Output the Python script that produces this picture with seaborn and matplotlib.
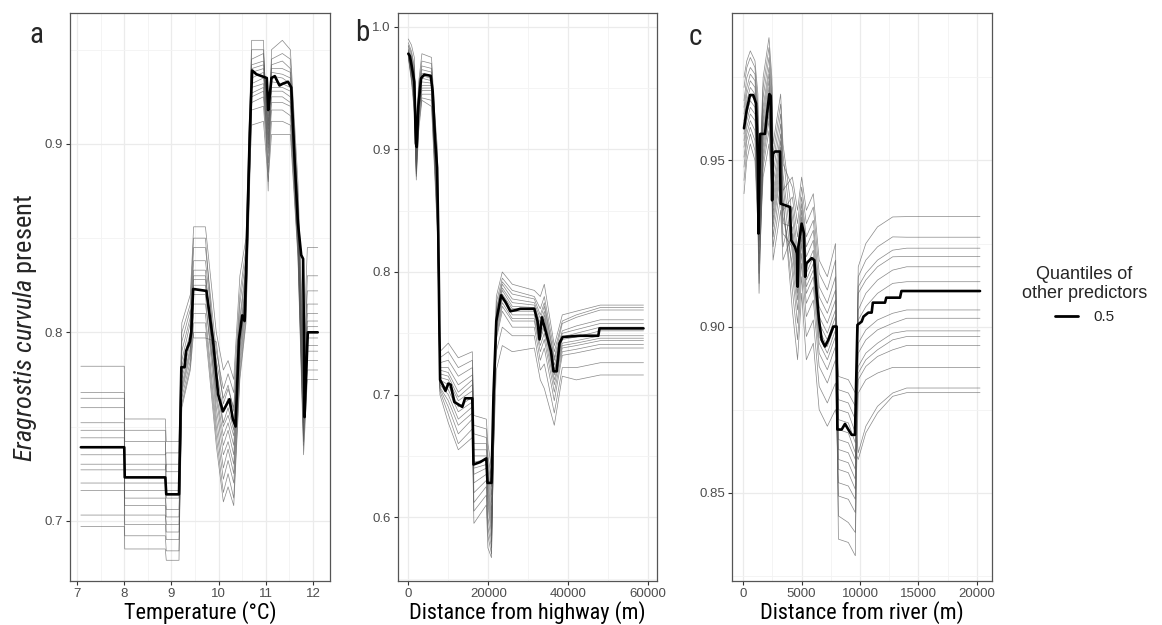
import pandas as pd
import numpy as np
import seaborn as sns
import matplotlib.pyplot as plt
from matplotlib import font_manager
from matplotlib.lines import Line2D
from matplotlib.ticker import MultipleLocator

# ---- panel a: temperature ----
xa_med = [7.08, 8.0, 8.01, 8.87, 8.89, 9.16, 9.21, 9.28, 9.31, 9.39, 9.42, 9.46, 9.74, 9.88, 9.99,
          10.09, 10.23, 10.30, 10.36, 10.43, 10.50, 10.55, 10.60, 10.66, 10.71, 10.80, 10.91, 11.02,
          11.05, 11.08, 11.12, 11.19, 11.29, 11.36, 11.47, 11.54, 11.61, 11.68, 11.75, 11.79, 11.81,
          11.82, 11.85, 11.89, 12.1]
ya_med = [0.739, 0.739, 0.723, 0.723, 0.714, 0.714, 0.7815, 0.7815, 0.790, 0.795, 0.800, 0.823,
          0.822, 0.796, 0.767, 0.758, 0.7645, 0.754, 0.750, 0.796, 0.809, 0.806, 0.849, 0.906, 0.939,
          0.937, 0.936, 0.935, 0.918, 0.925, 0.935, 0.936, 0.931, 0.932, 0.933, 0.930, 0.8915, 0.858,
          0.841, 0.839, 0.796, 0.755, 0.775, 0.800, 0.800]

xa_grey = [7.08, 8.0, 8.01, 8.87, 8.89, 9.16, 9.22, 9.4, 9.47, 9.72, 9.95, 10.1, 10.2, 10.32, 10.45,
           10.58, 10.7, 10.95, 11.05, 11.12, 11.35, 11.52, 11.68, 11.8, 11.88, 12.1]
ya_grey = [
    [.782, .782, .742, .742, .726, .726, .790, .808, .845, .845, .790, .770, .778, .768, .820, .845, .950, .950, .900, .945, .948, .945, .872, .785, .800, .800],
    [.768, .768, .754, .754, .742, .742, .805, .820, .856, .856, .800, .780, .785, .775, .830, .850, .955, .955, .875, .950, .955, .950, .880, .790, .845, .845],
    [.765, .765, .735, .735, .736, .736, .800, .815, .850, .850, .775, .752, .760, .748, .800, .828, .945, .948, .910, .942, .944, .940, .868, .780, .822, .822],
    [.760, .760, .748, .748, .720, .720, .785, .805, .838, .838, .785, .765, .772, .758, .808, .835, .935, .938, .912, .933, .932, .930, .865, .772, .830, .830],
    [.752, .752, .727, .727, .730, .730, .782, .800, .833, .833, .765, .740, .748, .735, .792, .820, .942, .944, .915, .940, .940, .938, .862, .768, .790, .790],
    [.748, .748, .730, .730, .712, .712, .778, .798, .830, .830, .780, .758, .765, .752, .805, .832, .930, .932, .902, .928, .928, .925, .860, .765, .810, .810],
    [.744, .744, .716, .716, .716, .716, .775, .795, .828, .828, .760, .735, .742, .730, .790, .818, .940, .942, .905, .938, .937, .935, .857, .760, .815, .815],
    [.735, .735, .720, .720, .702, .702, .772, .792, .825, .825, .772, .750, .756, .745, .798, .825, .938, .940, .918, .936, .935, .932, .855, .757, .803, .803],
    [.730, .730, .712, .712, .706, .706, .770, .790, .820, .820, .755, .728, .738, .725, .786, .815, .927, .930, .898, .925, .925, .922, .852, .752, .806, .806],
    [.727, .727, .703, .703, .698, .698, .768, .788, .815, .815, .768, .745, .752, .740, .795, .822, .932, .935, .908, .930, .930, .928, .850, .748, .797, .797],
    [.720, .720, .708, .708, .694, .694, .765, .785, .810, .810, .750, .722, .732, .720, .782, .812, .925, .928, .895, .922, .922, .920, .848, .745, .793, .793],
    [.716, .716, .698, .698, .690, .690, .762, .782, .805, .805, .745, .715, .725, .712, .778, .808, .922, .925, .890, .918, .918, .915, .845, .742, .785, .785],
    [.703, .703, .692, .692, .684, .684, .760, .780, .800, .800, .740, .710, .718, .708, .775, .805, .918, .920, .885, .912, .912, .910, .842, .740, .780, .780],
    [.697, .697, .685, .685, .679, .679, .795, .812, .797, .797, .795, .762, .770, .760, .815, .840, .910, .912, .880, .905, .905, .905, .840, .735, .775, .775],
]

# ---- panel b: distance from highway ----
xb_med = [0, 400, 900, 1500, 1900, 2100, 2500, 3200, 4000, 5600, 6100, 6700, 7200, 7500, 7750, 7950,
          8600, 9300, 10000, 10600, 11500, 12500, 13500, 14200, 16000, 16300, 18000, 19000, 19500,
          19800, 20800, 21300, 22000, 23200, 24400, 25500, 27000, 28000, 31500, 32300, 32800, 33400,
          34400, 35700, 36300, 37100, 37800, 38600, 43000, 47500, 47800, 58800]
yb_med = [0.978, 0.976, 0.967, 0.955, 0.905, 0.902, 0.935, 0.958, 0.961, 0.960, 0.947, 0.908, 0.885,
          0.830, 0.760, 0.712, 0.708, 0.703, 0.709, 0.708, 0.694, 0.692, 0.690, 0.697, 0.697, 0.643,
          0.645, 0.647, 0.648, 0.628, 0.628, 0.700, 0.760, 0.781, 0.775, 0.768, 0.769, 0.770, 0.770,
          0.760, 0.745, 0.763, 0.751, 0.735, 0.719, 0.719, 0.742, 0.747, 0.748, 0.748, 0.754, 0.754]

xb_grey = [0, 800, 1500, 2000, 2600, 3400, 5800, 6600, 7300, 7900, 10000, 12500, 16000, 16400, 19500,
           19900, 20800, 22000, 23500, 26000, 31500, 33000, 34000, 36500, 38500, 42000, 48000, 58800]
# ranked levels of the grey curves over three stretches of the axis
hb_start = [
    [.990, .985, .975, .920, .955, .978, .975, .930, .900],
    [.987, .980, .968, .912, .950, .972, .970, .925, .890],
    [.985, .978, .965, .905, .948, .968, .966, .920, .885],
    [.984, .975, .962, .900, .945, .965, .963, .915, .880],
    [.982, .972, .958, .895, .942, .962, .960, .912, .875],
    [.981, .970, .955, .892, .940, .960, .958, .908, .870],
    [.980, .968, .952, .890, .938, .958, .956, .905, .865],
    [.979, .966, .950, .888, .935, .955, .954, .902, .860],
    [.978, .964, .948, .886, .932, .952, .952, .900, .855],
    [.977, .962, .945, .884, .930, .950, .950, .897, .850],
    [.977, .960, .942, .882, .928, .948, .948, .894, .845],
    [.976, .958, .940, .880, .925, .945, .945, .890, .840],
    [.976, .957, .935, .878, .920, .942, .940, .885, .835],
    [.975, .955, .930, .875, .915, .940, .935, .880, .830],
]
hb_mid = [
    [.735, .742, .730, .735, .683, .680, .660, .640],
    [.730, .735, .722, .728, .675, .672, .650, .632],
    [.726, .728, .715, .722, .668, .665, .645, .625],
    [.722, .722, .708, .716, .660, .660, .640, .618],
    [.720, .718, .702, .712, .655, .655, .635, .612],
    [.717, .715, .698, .708, .650, .650, .630, .605],
    [.714, .712, .695, .703, .645, .647, .625, .600],
    [.712, .708, .690, .698, .640, .643, .620, .595],
    [.710, .704, .686, .694, .635, .640, .615, .590],
    [.708, .700, .680, .690, .628, .635, .610, .585],
    [.706, .695, .675, .685, .620, .630, .600, .580],
    [.705, .690, .668, .680, .612, .625, .592, .575],
    [.703, .684, .660, .672, .605, .618, .585, .570],
    [.700, .677, .655, .665, .595, .610, .575, .567],
]
hb_end = [
    [.780, .800, .790, .785, .780, .790, .740, .765, .768, .773, .773],
    [.775, .795, .785, .780, .770, .780, .735, .760, .765, .771, .771],
    [.770, .792, .782, .778, .765, .775, .730, .758, .763, .769, .769],
    [.768, .790, .778, .775, .762, .772, .728, .752, .756, .761, .761],
    [.765, .787, .775, .773, .758, .768, .724, .750, .753, .758, .758],
    [.762, .785, .772, .771, .755, .765, .720, .747, .750, .755, .755],
    [.760, .782, .770, .770, .752, .762, .718, .745, .747, .752, .752],
    [.758, .780, .768, .768, .748, .758, .716, .742, .744, .748, .748],
    [.755, .778, .765, .765, .745, .755, .712, .740, .742, .746, .746],
    [.752, .775, .762, .762, .740, .750, .708, .738, .740, .744, .744],
    [.748, .772, .760, .760, .735, .745, .702, .735, .737, .741, .741],
    [.745, .768, .755, .755, .728, .738, .695, .732, .734, .738, .738],
    [.735, .755, .748, .748, .720, .725, .685, .722, .722, .726, .726],
    [.720, .740, .735, .738, .712, .705, .675, .715, .712, .716, .716],
]
rank_b = [
    [1, 2, 3, 4, 5, 6, 7, 8, 9, 10, 11, 12, 13, 14],
    [5, 9, 2, 12, 1, 7, 14, 3, 10, 6, 13, 4, 8, 11],
    [6, 1, 10, 3, 13, 8, 2, 12, 5, 14, 4, 9, 7, 11],
]

# ---- panel c: distance from river ----
xc_med = [60, 290, 575, 857, 1086, 1250, 1300, 1380, 1450, 1857, 2000, 2229, 2343, 2420, 2470, 2520,
          2714, 3143, 3200, 4000, 4100, 4429, 4600, 4660, 4720, 5000, 5200, 5300, 5400, 5857, 6086,
          6286, 6486, 6714, 7000, 7286, 7714, 8000, 8060, 8429, 8714, 9000, 9286, 9571, 9780, 10143,
          10300, 10714, 11000, 11100, 12143, 12250, 13429, 13550, 20286]
yc_med = [0.9597, 0.9652, 0.9697, 0.9697, 0.9672, 0.950, 0.928, 0.945, 0.958, 0.958, 0.963, 0.970,
          0.9695, 0.956, 0.938, 0.952, 0.9527, 0.9527, 0.937, 0.936, 0.926, 0.924, 0.922, 0.912, 0.924,
          0.931, 0.928, 0.915, 0.919, 0.9206, 0.920, 0.910, 0.902, 0.896, 0.894, 0.896, 0.900, 0.900,
          0.869, 0.869, 0.8707, 0.869, 0.8674, 0.8674, 0.9005, 0.9015, 0.903, 0.9042, 0.9042, 0.9072,
          0.9072, 0.9087, 0.9087, 0.9107, 0.9107]

xc_grey = [60, 300, 600, 1000, 1250, 1350, 1700, 2200, 2450, 2550, 3200, 3400, 4200, 4650, 5000, 5400,
           6000, 6500, 7200, 7900, 8150, 9000, 9600, 9850, 10500, 11500, 12800, 14000, 20286]
hc_g1 = [
    [.975, .980, .983, .980, .970, .945], [.972, .978, .981, .978, .966, .942],
    [.968, .975, .978, .976, .963, .939], [.966, .972, .976, .974, .960, .936],
    [.964, .970, .974, .972, .957, .933], [.962, .968, .972, .970, .954, .930],
    [.960, .966, .970, .968, .951, .928], [.958, .964, .968, .966, .948, .926],
    [.956, .962, .966, .964, .945, .924], [.954, .960, .964, .962, .942, .922],
    [.951, .958, .962, .959, .939, .919], [.948, .956, .960, .956, .936, .916],
    [.944, .953, .958, .953, .933, .913], [.940, .950, .955, .950, .930, .910],
]
hc_g2 = [
    [.975, .987, .975, .955, .970, .955], [.972, .984, .972, .952, .967, .952],
    [.969, .981, .969, .949, .964, .949], [.966, .978, .966, .946, .961, .946],
    [.964, .976, .963, .943, .958, .943], [.962, .974, .960, .940, .956, .941],
    [.960, .972, .957, .938, .954, .939], [.958, .970, .955, .936, .952, .937],
    [.956, .968, .953, .934, .950, .935], [.954, .966, .951, .932, .948, .933],
    [.952, .964, .949, .930, .946, .931], [.950, .962, .946, .927, .943, .928],
    [.948, .959, .943, .924, .939, .924], [.945, .955, .940, .920, .935, .920],
]
hc_g3 = [
    [.945, .935, .945, .935, .940, .920, .915, .925], [.942, .931, .942, .931, .936, .916, .911, .920],
    [.939, .927, .939, .927, .932, .912, .907, .915], [.936, .923, .937, .924, .929, .909, .904, .911],
    [.933, .920, .935, .921, .926, .906, .901, .908], [.930, .917, .933, .918, .923, .903, .898, .905],
    [.928, .914, .931, .916, .921, .901, .896, .903], [.926, .912, .929, .914, .919, .899, .894, .901],
    [.924, .910, .927, .912, .917, .897, .892, .899], [.922, .908, .925, .910, .915, .895, .890, .897],
    [.919, .905, .922, .907, .912, .892, .887, .894], [.916, .901, .919, .903, .908, .888, .883, .890],
    [.911, .896, .915, .897, .902, .882, .877, .883], [.905, .890, .910, .890, .895, .875, .870, .875],
]
hc_mid = [
    [.885, .884, .880], [.881, .880, .876], [.878, .877, .872], [.875, .874, .868],
    [.872, .871, .865], [.869, .868, .862], [.866, .865, .860], [.863, .862, .857],
    [.860, .859, .854], [.857, .856, .851], [.853, .852, .848], [.849, .848, .844],
    [.843, .841, .838], [.836, .835, .831],
]
hc_end = [
    [.918, .925, .930, .933, .9331, .9331], [.915, .920, .924, .927, .9269, .9269],
    [.912, .916, .920, .923, .9236, .9236], [.910, .914, .918, .921, .9211, .9211],
    [.905, .910, .914, .917, .9180, .9180], [.902, .906, .910, .913, .9135, .9135],
    [.895, .899, .902, .904, .9050, .9050], [.892, .896, .899, .901, .9025, .9025],
    [.888, .892, .895, .898, .8987, .8987], [.886, .890, .893, .896, .8970, .8970],
    [.884, .888, .891, .893, .8943, .8943], [.880, .884, .886, .8877, .8877, .8877],
    [.862, .870, .876, .880, .8815, .8815], [.860, .868, .874, .879, .8801, .8801],
]
rank_c = [
    [1, 2, 3, 4, 5, 6, 7, 8, 9, 10, 11, 12, 13, 14],
    [3, 1, 6, 2, 9, 4, 11, 5, 13, 7, 14, 8, 12, 10],
    [2, 5, 1, 8, 3, 10, 6, 12, 4, 14, 7, 13, 9, 11],
    [4, 2, 7, 1, 10, 5, 12, 3, 14, 6, 9, 11, 8, 13],
    [2, 6, 1, 9, 4, 11, 3, 13, 5, 14, 7, 10, 8, 12],
]

x_titles = ['Temperature (\u00b0C)', 'Distance from highway (m)', 'Distance from river (m)']
panel_tags = ['a', 'b', 'c']
legend_title = 'Quantiles of\nother predictors'
legend_label = '0.5'


def stitch(blocks, ranks):
    lines = []
    for k in range(len(ranks[0])):
        row = []
        for block, rk in zip(blocks, ranks):
            row += block[rk[k] - 1]
        lines.append(row)
    return lines


def long_frame(xs, lines):
    rows = []
    for k, ys in enumerate(lines):
        for x, y in zip(xs, ys):
            rows.append((k, x, y))
    return pd.DataFrame(rows, columns=['line', 'x', 'y'])


yb_grey = stitch([hb_start, hb_mid, hb_end], rank_b)
yc_grey = stitch([hc_g1, hc_g2, hc_g3, hc_mid, hc_end], rank_c)

sns.set_theme(style='white')
names = {f.name for f in font_manager.fontManager.ttflist}
narrow = 'Roboto'
for cand in ['Liberation Sans Narrow', 'Roboto Condensed', 'DejaVu Sans Condensed', 'Open Sans Condensed']:
    if cand in names:
        narrow = cand
        break
plt.rcParams['font.family'] = ['Liberation Sans', 'DejaVu Sans']
plt.rcParams['mathtext.fontset'] = 'custom'
plt.rcParams['mathtext.it'] = narrow + ':italic'
plt.rcParams['mathtext.rm'] = narrow

fig = plt.figure(figsize=(11.62, 6.25), dpi=100)
W, H = 1162, 625
boxes = [(70, 330), (397.7, 656.7), (732.3, 992.3)]
top, bottom = 13, 581
axes = [fig.add_axes([l / W, (H - bottom) / H, (r - l) / W, (bottom - top) / H]) for l, r in boxes]

panels = [
    (xa_grey, ya_grey, xa_med, ya_med, (6.85, 12.36), (0.668, 0.9695), 1, 0.5, 0.1, 0.05, '%.1f'),
    (xb_grey, yb_grey, xb_med, yb_med, (-2650, 62100), (0.548, 1.0112), 20000, 10000, 0.1, 0.05, '%.1f'),
    (xc_grey, yc_grey, xc_med, yc_med, (-943, 21337), (0.8234, 0.9944), 5000, 2500, 0.05, 0.025, '%.2f'),
]

for ax, (xg, yg, xm, ym, xl, yl, xmaj, xmin, ymaj, ymin, fmt), title in zip(axes, panels, x_titles):
    grey = long_frame(xg, yg)
    sns.lineplot(data=grey, x='x', y='y', units='line', estimator=None, sort=False,
                 color='#555555', lw=0.5, alpha=0.7, legend=False, ax=ax)
    sns.lineplot(x=xm, y=ym, sort=False, color='black', lw=1.9, ax=ax)
    ax.set_xlim(*xl)
    ax.set_ylim(*yl)
    ax.xaxis.set_major_locator(MultipleLocator(xmaj))
    ax.xaxis.set_minor_locator(MultipleLocator(xmin))
    ax.yaxis.set_major_locator(MultipleLocator(ymaj))
    ax.yaxis.set_minor_locator(MultipleLocator(ymin))
    ax.yaxis.set_major_formatter(plt.FormatStrFormatter(fmt))
    if xmaj == 1:
        ax.xaxis.set_major_formatter(plt.FormatStrFormatter('%d'))
    ax.grid(which='major', color='#ebebeb', lw=0.9)
    ax.grid(which='minor', color='#f3f3f3', lw=0.6)
    ax.set_axisbelow(True)
    for s in ax.spines.values():
        s.set_color('#555555')
        s.set_linewidth(0.9)
    ax.tick_params(which='major', length=3, width=0.8, color='#333333', pad=2,
                   labelsize=9.5, labelcolor='#4d4d4d', left=True, bottom=True)
    ax.tick_params(which='minor', length=0)
    ax.set_xlabel(title, family=narrow, fontsize=16, labelpad=0.5, color='black')
    ax.set_ylabel('')

axes[0].set_ylabel(r'$\mathit{Eragrostis\ curvula}$' + ' present', family=narrow, fontsize=19)
axes[0].yaxis.set_label_coords(-0.12, 0.445)

tag_pos = [(36, 35), (362, 33), (695, 37)]
for (px, py), tag in zip(tag_pos, panel_tags):
    fig.text(px / W, 1 - py / H, tag, ha='center', va='center', fontsize=21, family=narrow)

handle = Line2D([0], [0], color='black', lw=2)
leg = fig.legend([handle], [legend_label], title=legend_title, loc='center left',
                 bbox_to_anchor=(1008 / W, 1 - 295 / H), frameon=False, handlelength=1.5,
                 handletextpad=1.0, fontsize=11, title_fontsize=13)
leg.get_title().set_multialignment('center')

fig.savefig('out.png', dpi=100)
